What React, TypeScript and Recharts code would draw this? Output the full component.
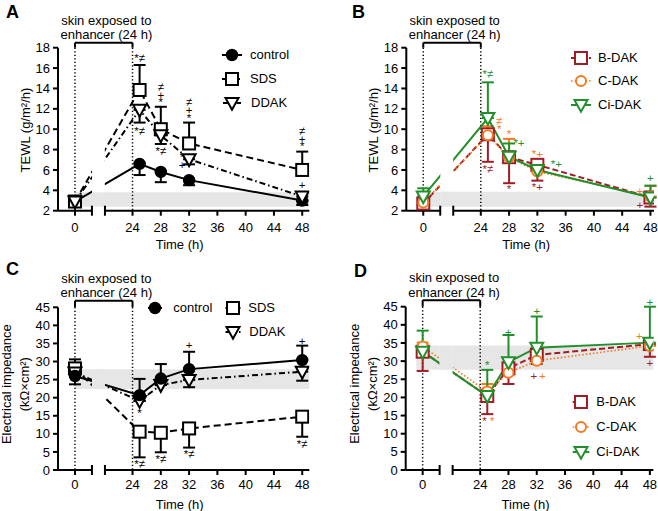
import React from 'react';
import {
  ComposedChart,
  Line,
  XAxis,
  YAxis,
  ErrorBar,
  ReferenceArea,
  ReferenceLine,
  ReferenceDot,
  Legend,
  Label,
} from 'recharts';

const FONT = '"Liberation Sans", Arial, Helvetica, sans-serif';

// ---------- shared axes ----------
const hours = [0, 25, 28, 32, 48];
const timeTicks = [0, 24, 28, 32, 36, 40, 44, 48];
const tewlTicks = [2, 4, 6, 8, 10, 12, 14, 16, 18];
const impTicks = [0, 5, 10, 15, 20, 25, 30, 35, 40, 45];

// ---------- Panel A (TEWL) ----------
const aControl = [2.9, 6.6, 5.8, 5.0, 3.0];
const aControlDown = [0.3, 1.1, 1.0, 0.5, 0.44];
const aSDS = [2.9, 13.85, 10.0, 8.6, 6.0];
const aSDSUp = [0.3, 2.45, 2.2, 2.05, 1.8];
const aDDAK = [2.9, 11.9, 9.4, 7.05, 3.4];
const aDDAKDown = [0.3, 1.25, 0.85, 0.5, 0.4];
const aBand = [2.4, 3.8];
// significance marks: stacked characters separated by "|"
const aNotes = [
  { x: 25, y: 16.95, t: '*≠', c: 'black' },
  { x: 28, y: 14.17, t: '≠|+|*', c: 'black' },
  { x: 32, y: 12.67, t: '≠|+|*', c: 'black' },
  { x: 48, y: 9.85, t: '≠|+|*', c: 'black' },
  { x: 25, y: 9.85, t: '*≠', c: 'black' },
  { x: 28, y: 7.9, t: '*≠', c: 'black' },
  { x: 31, y: 7.23, t: '*|+', c: 'black' },
  { x: 48, y: 4.52, t: '+', c: 'black' },
];

// ---------- Panel B (TEWL, DAK) ----------
const bBDAK = [2.7, 9.5, 7.25, 6.5, 3.3];
const bBDAKDown = [0.3, 2.7, 2.55, 1.55, 0.9];
const bCDAK = [2.8, 9.4, 7.25, 5.85, 3.4];
const bCDAKUp = [0.3, 0.9, 1.8, 0.95, 1.05];
const bCiDAK = [3.4, 11.1, 7.3, 6.0, 3.3];
const bCiDAKUp = [0.8, 3.5, 1.3, 0.7, 1.15];
const bBand = [2.4, 3.87];
const bNotes = [
  { x: 25, y: 15.38, t: '*≠', c: 'green' },
  { x: 26.6, y: 10.8, t: '≠|*', c: 'orange' },
  { x: 25, y: 6.08, t: '*≠', c: 'red' },
  { x: 28, y: 9.53, t: '*', c: 'orange' },
  { x: 29.4, y: 8.6, t: '*+', c: 'green' },
  { x: 28, y: 4.1, t: '*', c: 'red' },
  { x: 32, y: 7.57, t: '*+', c: 'orange' },
  { x: 34.7, y: 6.58, t: '*+', c: 'green' },
  { x: 32, y: 4.35, t: '*+', c: 'red' },
  { x: 48, y: 5.2, t: '+', c: 'green' },
  { x: 46.5, y: 3.96, t: '+', c: 'orange' },
  { x: 46.5, y: 2.55, t: '+', c: 'red' },
];

// ---------- Panel C (impedance) ----------
const cControl = [26.0, 20.7, 25.3, 27.9, 30.4];
const cControlUp = [0, 4.5, 4.0, 4.8, 4.0];
const cControlDown = [2.3, 0, 0, 0, 0];
const cSDS = [28.1, 10.6, 10.3, 11.5, 14.75];
const cSDSUp = [2.5, 0, 0, 0, 0];
const cSDSDown = [0, 7.1, 5.4, 5.3, 5.55];
const cDDAK = [27.0, 19.1, 23.5, 24.9, 27.2];
const cDDAKDown = [0, 0, 0, 2.0, 2.5];
const cBand = [22.4, 27.9];
const cNotes = [
  { x: 32, y: 34.6, t: '+', c: 'black' },
  { x: 48, y: 35.8, t: '+', c: 'black' },
  { x: 25, y: 1.66, t: '*≠', c: 'black' },
  { x: 28, y: 2.95, t: '*≠', c: 'black' },
  { x: 32, y: 4.4, t: '*≠', c: 'black' },
  { x: 48, y: 7.2, t: '*≠', c: 'black' },
  { x: 25, y: 15.7, t: '*', c: 'black' },
];

// ---------- Panel D (impedance, DAK) ----------
const dBDAK = [32.6, 20.4, 28.0, 31.7, 34.7];
const dBDAKDown = [5.3, 5.0, 4.3, 2.5, 3.5];
const dCDAK = [34.0, 21.6, 26.8, 30.1, 34.2];
const dCDAKUp = [1.1, 2.1, 0, 0, 0];
const dCiDAK = [32.6, 20.4, 29.7, 33.7, 35.1];
const dCiDAKUp = [5.8, 7.2, 7.5, 8.6, 9.9];
const dBand = [27.6, 34.3];
const dNotes = [
  { x: 25, y: 28.95, t: '*', c: 'green' },
  { x: 24.6, y: 13.6, t: '*', c: 'red' },
  { x: 25.7, y: 13.6, t: '*', c: 'orange' },
  { x: 28, y: 38.1, t: '+', c: 'green' },
  { x: 32, y: 43.7, t: '+', c: 'green' },
  { x: 31.6, y: 25.9, t: '+', c: 'red' },
  { x: 32.8, y: 25.9, t: '+', c: 'orange' },
  { x: 48, y: 46.4, t: '+', c: 'green' },
  { x: 46.5, y: 36.8, t: '+', c: 'orange' },
  { x: 48, y: 29.4, t: '+', c: 'red' },
];

const zeros = [0, 0, 0, 0, 0];

const COLORS: Record<string, string> = {
  black: '#000000',
  red: '#a11d26',
  orange: '#f47a22',
  green: '#22902a',
};
const BAND = '#e6e6e6';

// ---------- broken time axis scale ----------
const BREAK_LO = 2.4;
const BREAK_HI = 20.1;
const GAP_U = 1.84;
const X_MIN = -2.4;

function brokenScale(): any {
  let dom = [0, 1];
  let rng = [0, 1];
  const toU = (t: number) => {
    if (t <= BREAK_LO) return t;
    if (t >= BREAK_HI) return t - BREAK_HI + BREAK_LO + GAP_U;
    return BREAK_LO + ((t - BREAK_LO) / (BREAK_HI - BREAK_LO)) * GAP_U;
  };
  const fromU = (u: number) => {
    if (u <= BREAK_LO) return u;
    if (u >= BREAK_LO + GAP_U) return u - BREAK_LO - GAP_U + BREAK_HI;
    return BREAK_LO + ((u - BREAK_LO) / GAP_U) * (BREAK_HI - BREAK_LO);
  };
  const scale: any = function (t: any) {
    const u0 = toU(dom[0]);
    const u1 = toU(dom[1]);
    return rng[0] + ((toU(Number(t)) - u0) / (u1 - u0)) * (rng[1] - rng[0]);
  };
  scale.domain = function (d?: any) {
    if (!arguments.length) return dom.slice();
    const arr = Array.from(d as any[]).map(Number);
    dom = [arr[0], arr[arr.length - 1]];
    return scale;
  };
  scale.range = function (r?: any) {
    if (!arguments.length) return rng.slice();
    const arr = Array.from(r as any[]).map(Number);
    rng = [arr[0], arr[arr.length - 1]];
    return scale;
  };
  scale.invert = function (p: number) {
    const u0 = toU(dom[0]);
    const u1 = toU(dom[1]);
    return fromU(u0 + ((p - rng[0]) / (rng[1] - rng[0])) * (u1 - u0));
  };
  scale.copy = function () {
    const s = brokenScale();
    s.domain(dom);
    s.range(rng);
    return s;
  };
  scale.ticks = function () {
    return timeTicks.slice();
  };
  scale.tickFormat = function () {
    return (v: any) => String(v);
  };
  scale.nice = function () {
    return scale;
  };
  scale.clamp = function () {
    return scale;
  };
  return scale;
}

// ---------- markers ----------
type MarkerKind = 'circle' | 'square' | 'triangle';

function Marker({ kind, cx, cy, color, filled }: { kind: MarkerKind; cx: number; cy: number; color: string; filled?: boolean }) {
  if (kind === 'circle') {
    return <circle cx={cx} cy={cy} r={filled ? 5.2 : 5} fill={filled ? color : '#fff'} stroke={color} strokeWidth={2} />;
  }
  if (kind === 'square') {
    return <rect x={cx - 6} y={cy - 6} width={12} height={12} fill="#fff" stroke={color} strokeWidth={2} />;
  }
  return (
    <polygon
      points={`${cx - 6.5},${cy - 5} ${cx + 6.5},${cy - 5} ${cx},${cy + 6.8}`}
      fill="#fff"
      stroke={color}
      strokeWidth={2}
    />
  );
}

type Series = {
  key: string;
  name: string;
  values: number[];
  down: number[];
  up: number[];
  color: string;
  dash?: string;
  width: number;
  marker: MarkerKind;
  filled?: boolean;
};

type LegendItem = { key: string; cx: number; cy: number; tx: number; half: number };

function LegendBox({ items, series }: { items: LegendItem[]; series: Series[] }) {
  return (
    <div style={{ position: 'relative', width: '100%', height: '100%', fontFamily: FONT }}>
      {items.map((it) => {
        const s = series.find((q) => q.key === it.key)!;
        return (
          <React.Fragment key={it.key}>
            <svg
              width={24}
              height={16}
              style={{ position: 'absolute', left: it.cx - 12, top: it.cy - 8, overflow: 'visible' }}
            >
              <line
                x1={12 - it.half}
                x2={12 + it.half}
                y1={8}
                y2={8}
                stroke={s.color}
                strokeWidth={s.width}
                strokeDasharray={s.dash}
              />
              <Marker kind={s.marker} cx={12} cy={8} color={s.color} filled={s.filled} />
            </svg>
            <div
              style={{
                position: 'absolute',
                left: it.tx,
                top: it.cy - 9,
                fontSize: 13,
                lineHeight: '18px',
                whiteSpace: 'nowrap',
                color: '#000',
              }}
            >
              {s.name}
            </div>
          </React.Fragment>
        );
      })}
    </div>
  );
}

type Note = { x: number; y: number; t: string; c: string };

type PanelProps = {
  left: number;
  top: number;
  width: number;
  height: number;
  margin: { top: number; right: number; bottom: number; left: number };
  xMax: number;
  yMin: number;
  yMax: number;
  yTicks: number[];
  series: Series[];
  band: number[];
  bandX1: number;
  notes: Note[];
  yLabel: { t: string; dx: number }[];
  yLabelDy: number;
  legend: LegendItem[];
  bracketY: number;
  xTickMargin: number;
};

const X_AXIS_H = 40;
const AXIS_STROKE = { stroke: '#000', strokeWidth: 2 };
const TICK_STYLE = { fontSize: 13, fill: '#000', fontFamily: FONT };
const NOTE_STEP = 7.8;

function NoteText({ cx, cy, t, color }: { cx: number; cy: number; t: string; color: string }) {
  const parts = t.split('|');
  const common = {
    textAnchor: 'middle' as const,
    dominantBaseline: 'central' as const,
    fontSize: 11.5,
    fontFamily: FONT,
    fill: color,
  };
  if (parts.length === 1) {
    return (
      <text x={cx} y={cy} {...common}>
        {t}
      </text>
    );
  }
  // one text node, each stacked character positioned individually
  const xs = parts.map(() => cx).join(' ');
  const ys = parts.map((_, k) => cy + k * NOTE_STEP).join(' ');
  return (
    <text x={xs} y={ys} {...common}>
      {parts.join('')}
    </text>
  );
}

function Panel(p: PanelProps) {
  const scale = React.useMemo(() => brokenScale(), []);
  const data = hours.map((h, i) => {
    const row: any = { h };
    p.series.forEach((s) => {
      row[s.key] = s.values[i];
      row[s.key + 'Err'] = [s.down[i], s.up[i]];
    });
    return row;
  });
  const plotH = p.height - p.margin.top - p.margin.bottom - X_AXIS_H;
  const unitPerPx = (p.yMax - p.yMin) / plotH;
  const markD = 5 * unitPerPx;

  return (
    <div style={{ position: 'absolute', left: p.left, top: p.top, width: p.width, height: p.height }}>
      <ComposedChart width={p.width} height={p.height} data={data} margin={p.margin}>
        <XAxis
          dataKey="h"
          type="number"
          scale={scale}
          domain={[X_MIN, p.xMax]}
          ticks={timeTicks}
          interval={0}
          allowDataOverflow
          axisLine={false}
          tickLine={AXIS_STROKE}
          tickSize={5}
          tickMargin={p.xTickMargin}
          height={X_AXIS_H}
          tick={TICK_STYLE}
        >
          <Label
            content={(lp: any) => {
              const vb = lp.viewBox || {};
              return (
                <text
                  x={vb.x + vb.width / 2 - 4}
                  y={vb.y + 34}
                  textAnchor="middle"
                  dominantBaseline="central"
                  fontSize={13}
                  fontFamily={FONT}
                  fill="#000"
                >
                  Time (h)
                </text>
              );
            }}
          />
        </XAxis>
        <YAxis
          type="number"
          domain={[p.yMin, p.yMax]}
          ticks={p.yTicks}
          interval={0}
          allowDataOverflow
          axisLine={AXIS_STROKE}
          tickLine={AXIS_STROKE}
          tickSize={5}
          tickMargin={3}
          width={30}
          tick={TICK_STYLE}
        >
          <Label
            content={(lp: any) => {
              const vb = lp.viewBox || {};
              const right = vb.x + vb.width;
              const cy = vb.y + vb.height / 2 + p.yLabelDy;
              return (
                <g>
                  {p.yLabel.map((l, i) => {
                    const x = right - l.dx;
                    return (
                      <text
                        key={i}
                        x={x}
                        y={cy}
                        transform={`rotate(-90 ${x} ${cy})`}
                        textAnchor="middle"
                        dominantBaseline="central"
                        fontSize={13}
                        fontFamily={FONT}
                        fill="#000"
                      >
                        {l.t}
                      </text>
                    );
                  })}
                </g>
              );
            }}
          />
        </YAxis>

        <ReferenceArea
          x1={p.bandX1}
          x2={p.xMax}
          y1={p.band[0]}
          y2={p.band[1]}
          fill={BAND}
          fillOpacity={1}
          stroke="none"
          ifOverflow="visible"
        />

        {/* bracket: skin exposed to enhancer */}
        <ReferenceLine
          segment={[{ x: 0, y: p.bracketY }, { x: 24, y: p.bracketY }]}
          stroke="#000"
          strokeWidth={2}
          ifOverflow="visible"
          zIndex={350}
        />
        <ReferenceLine
          segment={[{ x: 0, y: p.bracketY }, { x: 0, y: p.yMax }]}
          stroke="#000"
          strokeWidth={2}
          ifOverflow="visible"
          zIndex={350}
        />
        <ReferenceLine
          segment={[{ x: 24, y: p.bracketY }, { x: 24, y: p.yMax }]}
          stroke="#000"
          strokeWidth={2}
          ifOverflow="visible"
          zIndex={350}
        />
        <ReferenceLine
          segment={[{ x: 0, y: p.yMax }, { x: 0, y: p.yMin }]}
          stroke="#000"
          strokeWidth={1.5}
          strokeDasharray="1.3 2.2"
          ifOverflow="visible"
          zIndex={350}
        />
        <ReferenceLine
          segment={[{ x: 24, y: p.yMax }, { x: 24, y: p.yMin }]}
          stroke="#000"
          strokeWidth={1.5}
          strokeDasharray="1.3 2.2"
          ifOverflow="visible"
          zIndex={350}
        />

        {p.series.map((s) => (
          <Line
            key={s.key}
            type="linear"
            dataKey={s.key}
            name={s.name}
            stroke={s.color}
            strokeWidth={s.width}
            strokeDasharray={s.dash}
            isAnimationActive={false}
            activeDot={false}
            legendType="none"
            dot={(dp: any) => (
              <Marker
                key={`${s.key}-${dp.index}`}
                kind={s.marker}
                cx={dp.cx}
                cy={dp.cy}
                color={s.color}
                filled={s.filled}
              />
            )}
          >
            <ErrorBar
              dataKey={s.key + 'Err'}
              direction="y"
              width={6}
              stroke={s.color}
              strokeWidth={2}
              isAnimationActive={false}
            />
          </Line>
        ))}

        {/* axis break gap */}
        <ReferenceArea
          x1={BREAK_LO + 0.15}
          x2={BREAK_HI - 0.15}
          y1={p.yMin}
          y2={p.yMax}
          fill="#fff"
          fillOpacity={1}
          stroke="none"
          ifOverflow="visible"
          zIndex={450}
        />
        <ReferenceArea
          x1={BREAK_LO}
          x2={BREAK_HI}
          y1={p.band[0]}
          y2={p.band[1]}
          fill={BAND}
          fillOpacity={1}
          stroke="none"
          ifOverflow="visible"
          zIndex={460}
        />

        {/* broken x axis line */}
        <ReferenceLine
          segment={[{ x: X_MIN, y: p.yMin }, { x: BREAK_LO, y: p.yMin }]}
          stroke="#000"
          strokeWidth={2}
          ifOverflow="visible"
          zIndex={470}
        />
        <ReferenceLine
          segment={[{ x: BREAK_HI, y: p.yMin }, { x: p.xMax, y: p.yMin }]}
          stroke="#000"
          strokeWidth={2}
          ifOverflow="visible"
          zIndex={470}
        />
        <ReferenceLine
          segment={[{ x: BREAK_LO, y: p.yMin - markD }, { x: BREAK_LO, y: p.yMin + markD }]}
          stroke="#000"
          strokeWidth={2}
          ifOverflow="visible"
          zIndex={470}
        />
        <ReferenceLine
          segment={[{ x: BREAK_HI, y: p.yMin - markD }, { x: BREAK_HI, y: p.yMin + markD }]}
          stroke="#000"
          strokeWidth={2}
          ifOverflow="visible"
          zIndex={470}
        />

        {p.notes.map((n, i) => (
          <ReferenceDot
            key={'n' + i}
            x={n.x}
            y={n.y}
            r={0}
            ifOverflow="visible"
            zIndex={2000}
            shape={(dp: any) => <NoteText cx={dp.cx} cy={dp.cy} t={n.t} color={COLORS[n.c]} />}
          />
        ))}

        <ReferenceDot
          x={20.3}
          y={p.bracketY}
          r={0}
          ifOverflow="visible"
          zIndex={2000}
          shape={(dp: any) => (
            <g>
              <text x={dp.cx} y={dp.cy - 22.5} textAnchor="middle" dominantBaseline="central" fontSize={13} fontFamily={FONT} fill="#000">
                skin exposed to
              </text>
              <text x={dp.cx} y={dp.cy - 8} textAnchor="middle" dominantBaseline="central" fontSize={13} fontFamily={FONT} fill="#000">
                enhancer (24 h)
              </text>
            </g>
          )}
        />

        <Legend
          layout="horizontal"
          verticalAlign="middle"
          align="center"
          wrapperStyle={{ left: 0, top: 0, width: p.width, height: p.height, pointerEvents: 'none' }}
          content={() => <LegendBox items={p.legend} series={p.series} />}
        />
      </ComposedChart>
    </div>
  );
}

function PanelLetter({ t, left, top }: { t: string; left: number; top: number }) {
  return (
    <div
      style={{
        position: 'absolute',
        left,
        top,
        fontFamily: FONT,
        fontWeight: 'bold',
        fontSize: 18,
        lineHeight: '18px',
        color: '#000',
      }}
    >
      {t}
    </div>
  );
}

export default function App() {
  const seriesA: Series[] = [
    { key: 'control', name: 'control', values: aControl, down: aControlDown, up: zeros, color: COLORS.black, width: 2, marker: 'circle', filled: true },
    { key: 'sds', name: 'SDS', values: aSDS, down: zeros, up: aSDSUp, color: COLORS.black, width: 2, dash: '7 4', marker: 'square' },
    { key: 'ddak', name: 'DDAK', values: aDDAK, down: aDDAKDown, up: zeros, color: COLORS.black, width: 2, dash: '6 3 1.5 3', marker: 'triangle' },
  ];
  const seriesB: Series[] = [
    { key: 'bdak', name: 'B-DAK', values: bBDAK, down: bBDAKDown, up: zeros, color: COLORS.red, width: 2, dash: '6 3', marker: 'square' },
    { key: 'cdak', name: 'C-DAK', values: bCDAK, down: zeros, up: bCDAKUp, color: COLORS.orange, width: 1.6, dash: '1.6 2', marker: 'circle' },
    { key: 'cidak', name: 'Ci-DAK', values: bCiDAK, down: zeros, up: bCiDAKUp, color: COLORS.green, width: 2, marker: 'triangle' },
  ];
  const seriesC: Series[] = [
    { key: 'sds', name: 'SDS', values: cSDS, down: cSDSDown, up: cSDSUp, color: COLORS.black, width: 2, dash: '7 4', marker: 'square' },
    { key: 'ddak', name: 'DDAK', values: cDDAK, down: cDDAKDown, up: zeros, color: COLORS.black, width: 2, dash: '6 3 1.5 3', marker: 'triangle' },
    { key: 'control', name: 'control', values: cControl, down: cControlDown, up: cControlUp, color: COLORS.black, width: 2, marker: 'circle', filled: true },
  ];
  const seriesD: Series[] = [
    { key: 'bdak', name: 'B-DAK', values: dBDAK, down: dBDAKDown, up: zeros, color: COLORS.red, width: 2, dash: '6 3', marker: 'square' },
    { key: 'cdak', name: 'C-DAK', values: dCDAK, down: zeros, up: dCDAKUp, color: COLORS.orange, width: 1.6, dash: '1.6 2', marker: 'circle' },
    { key: 'cidak', name: 'Ci-DAK', values: dCiDAK, down: zeros, up: dCiDAKUp, color: COLORS.green, width: 2, marker: 'triangle' },
  ];

  const tewlLabel = [{ t: 'TEWL (g/m²/h)', dx: 33 }];
  const impLabel = [
    { t: 'Electrical impedance', dx: 51.5 },
    { t: '(kΩ×cm²)', dx: 33 },
  ];

  return (
    <div
      style={{
        position: 'absolute',
        left: 0,
        top: 0,
        width: 658,
        height: 511,
        background: '#fff',
        overflow: 'hidden',
        fontFamily: FONT,
      }}
    >
      <Panel
        left={0}
        top={0}
        width={329}
        height={255}
        margin={{ top: 47.7, right: 19.7, bottom: 4.3, left: 28 }}
        xMax={49}
        yMin={2}
        yMax={18}
        yTicks={tewlTicks}
        series={seriesA}
        band={aBand}
        bandX1={0}
        notes={aNotes}
        yLabel={tewlLabel}
        yLabelDy={0.8}
        legend={[
          { key: 'control', cx: 232, cy: 55, tx: 250, half: 10 },
          { key: 'sds', cx: 232, cy: 79, tx: 250, half: 10 },
          { key: 'ddak', cx: 232, cy: 103, tx: 251, half: 9 },
        ]}
        bracketY={18.49}
        xTickMargin={7}
      />
      <Panel
        left={329}
        top={0}
        width={329}
        height={255}
        margin={{ top: 47.7, right: 4, bottom: 4.3, left: 47.3 }}
        xMax={48.5}
        yMin={2}
        yMax={18}
        yTicks={tewlTicks}
        series={seriesB}
        band={bBand}
        bandX1={0}
        notes={bNotes}
        yLabel={tewlLabel}
        yLabelDy={0.8}
        legend={[
          { key: 'bdak', cx: 252.3, cy: 57.5, tx: 269, half: 10 },
          { key: 'cdak', cx: 252.3, cy: 81, tx: 269, half: 10 },
          { key: 'cidak', cx: 252.3, cy: 105, tx: 269, half: 10 },
        ]}
        bracketY={18.49}
        xTickMargin={7}
      />
      <Panel
        left={0}
        top={255}
        width={329}
        height={256}
        margin={{ top: 52.3, right: 19.7, bottom: 1, left: 28 }}
        xMax={49}
        yMin={0}
        yMax={45}
        yTicks={impTicks}
        series={seriesC}
        band={cBand}
        bandX1={0}
        notes={cNotes}
        yLabel={impLabel}
        yLabelDy={-4.5}
        legend={[
          { key: 'control', cx: 155, cy: 53.3, tx: 173.3, half: 7 },
          { key: 'sds', cx: 232.5, cy: 53.3, tx: 248.3, half: 7.5 },
          { key: 'ddak', cx: 232.5, cy: 76.7, tx: 249.3, half: 7.5 },
        ]}
        bracketY={46.8}
        xTickMargin={5}
      />
      <Panel
        left={329}
        top={255}
        width={329}
        height={256}
        margin={{ top: 51.7, right: 4.6, bottom: 1, left: 46.7 }}
        xMax={48.5}
        yMin={0}
        yMax={45}
        yTicks={impTicks}
        series={seriesD}
        band={dBand}
        bandX1={-0.9}
        notes={dNotes}
        yLabel={impLabel}
        yLabelDy={-4.5}
        legend={[
          { key: 'bdak', cx: 252.3, cy: 146.7, tx: 267.3, half: 8.3 },
          { key: 'cdak', cx: 252.3, cy: 171.7, tx: 267.3, half: 8.3 },
          { key: 'cidak', cx: 252.3, cy: 196.7, tx: 267.3, half: 8.3 },
        ]}
        bracketY={46.8}
        xTickMargin={5}
      />
      <PanelLetter t="A" left={6} top={3} />
      <PanelLetter t="B" left={352} top={3} />
      <PanelLetter t="C" left={6} top={260} />
      <PanelLetter t="D" left={354} top={261.5} />
    </div>
  );
}
